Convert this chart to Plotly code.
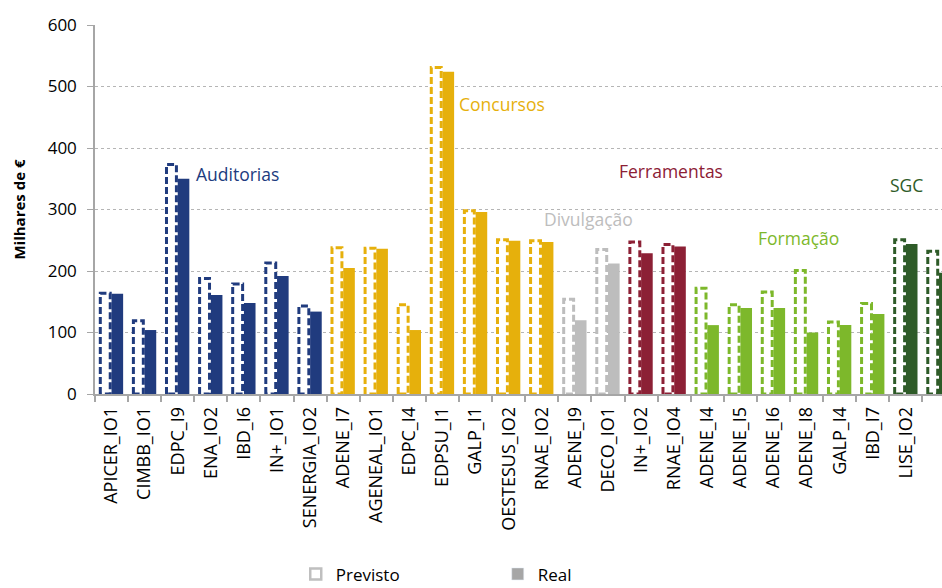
import plotly.graph_objects as go

categories = ["APICER_IO1", "CIMBB_IO1", "EDPC_I9", "ENA_IO2", "IBD_I6", "IN+_IO1", "SENERGIA_IO2",
              "ADENE_I7", "AGENEAL_IO1", "EDPC_I4", "EDPSU_I1", "GALP_I1", "OESTESUS_IO2", "RNAE_IO2",
              "ADENE_I9", "DECO_IO1",
              "IN+_IO2", "RNAE_IO4",
              "ADENE_I4", "ADENE_I5", "ADENE_I6", "ADENE_I8", "GALP_I4", "IBD_I7",
              "LISE_IO2", "SENERGIA_IO1"]
groups = (["Auditorias"] * 7 + ["Concursos"] * 7 + ["Divulgação"] * 2 + ["Ferramentas"] * 2
          + ["Formação"] * 6 + ["SGC"] * 2)
previsto = [164, 119, 373, 188, 179, 213, 143,
            238, 237, 145, 531, 298, 251, 249,
            154, 235,
            247, 243,
            172, 145, 166, 201, 117, 147,
            251, 232]
real = [163, 104, 350, 161, 148, 192, 134,
        205, 236, 104, 524, 296, 249, 247,
        120, 212,
        229, 240,
        112, 140, 140, 100, 112, 130,
        244, 197]
group_colors = {"Auditorias": "#203B7E", "Concursos": "#E6B00C", "Divulgação": "#BDBDBD",
                "Ferramentas": "#8C2035", "Formação": "#7DB82B", "SGC": "#2E5B28"}
group_label_pos = {"Auditorias": (2.5, 358), "Concursos": (10.45, 472), "Divulgação": (13.0, 285),
                   "Ferramentas": (15.27, 362), "Formação": (19.46, 254), "SGC": (23.46, 340)}

FONT = "Open Sans"
fig = go.Figure()

# Previsto: dashed outline rectangles, one trace per group
for g in dict.fromkeys(groups):
    xs, ys = [], []
    for i, (gg, v) in enumerate(zip(groups, previsto)):
        if gg != g:
            continue
        x0, x1 = i - 0.34, i - 0.04
        xs += [x0, x0, x1, x1, x0, None]
        ys += [0, v, v, 0, 0, None]
    fig.add_trace(go.Scatter(x=xs, y=ys, mode="lines", fill="toself", fillcolor="white",
                             line=dict(color=group_colors[g], width=3, dash="7px,3px"),
                             showlegend=False, hoverinfo="skip"))

# Real: filled bars
fig.add_trace(go.Bar(x=list(range(len(categories))), y=real, offset=0.0, width=0.35,
                     marker=dict(color=[group_colors[g] for g in groups], line=dict(width=0)),
                     showlegend=False))

# Legend entries
fig.add_trace(go.Scatter(x=[None], y=[None], mode="markers", name="Previsto",
                         marker=dict(symbol="square-open", size=11, color="#BFBFBF",
                                     line=dict(width=2.5, color="#BFBFBF"))))
fig.add_trace(go.Bar(x=[None], y=[None], marker=dict(color="#A6A6A6"), name="Real"))

for g, (gx, gy) in group_label_pos.items():
    fig.add_annotation(x=gx, y=gy, xref="x", yref="y", text=g, showarrow=False,
                       xanchor="left", yanchor="middle",
                       font=dict(family=FONT, size=17.5, color=group_colors[g]))

fig.update_layout(
    width=942, height=588,
    margin=dict(l=95, r=0, t=25, b=194, autoexpand=False),
    paper_bgcolor="white", plot_bgcolor="white",
    barmode="overlay",
    font=dict(family=FONT, color="#000000"),
    legend=dict(orientation="h", x=0.237, xanchor="left", y=-0.44, yanchor="top",
                font=dict(size=17), entrywidth=157, entrywidthmode="pixels"),
    xaxis=dict(range=[-0.5, 25.09], tickmode="array", tickvals=list(range(len(categories))),
               ticktext=categories, tickangle=-90, tickfont=dict(size=18), ticks="",
               ticklabelstandoff=4, automargin=False,
               showgrid=False, zeroline=False, showline=True, linecolor="#A6A6A6", linewidth=1.5,
               minor=dict(tickvals=[i - 0.5 for i in range(len(categories) + 1)], ticks="outside",
                          ticklen=6, tickcolor="#A6A6A6", tickwidth=1.5, showgrid=False)),
    yaxis=dict(range=[0, 600], tickvals=[0, 100, 200, 300, 400, 500, 600],
               tickfont=dict(size=17), ticks="outside", ticklen=6, tickcolor="#A6A6A6",
               ticklabelstandoff=7, automargin=False,
               showline=True, linecolor="#A6A6A6", linewidth=1.5,
               showgrid=True, gridcolor="#B5B5B5", griddash="dot", gridwidth=1, zeroline=False,
               title=dict(text="<b>Milhares de €</b>", font=dict(size=15), standoff=18)),
)

fig.write_html("out.html")
